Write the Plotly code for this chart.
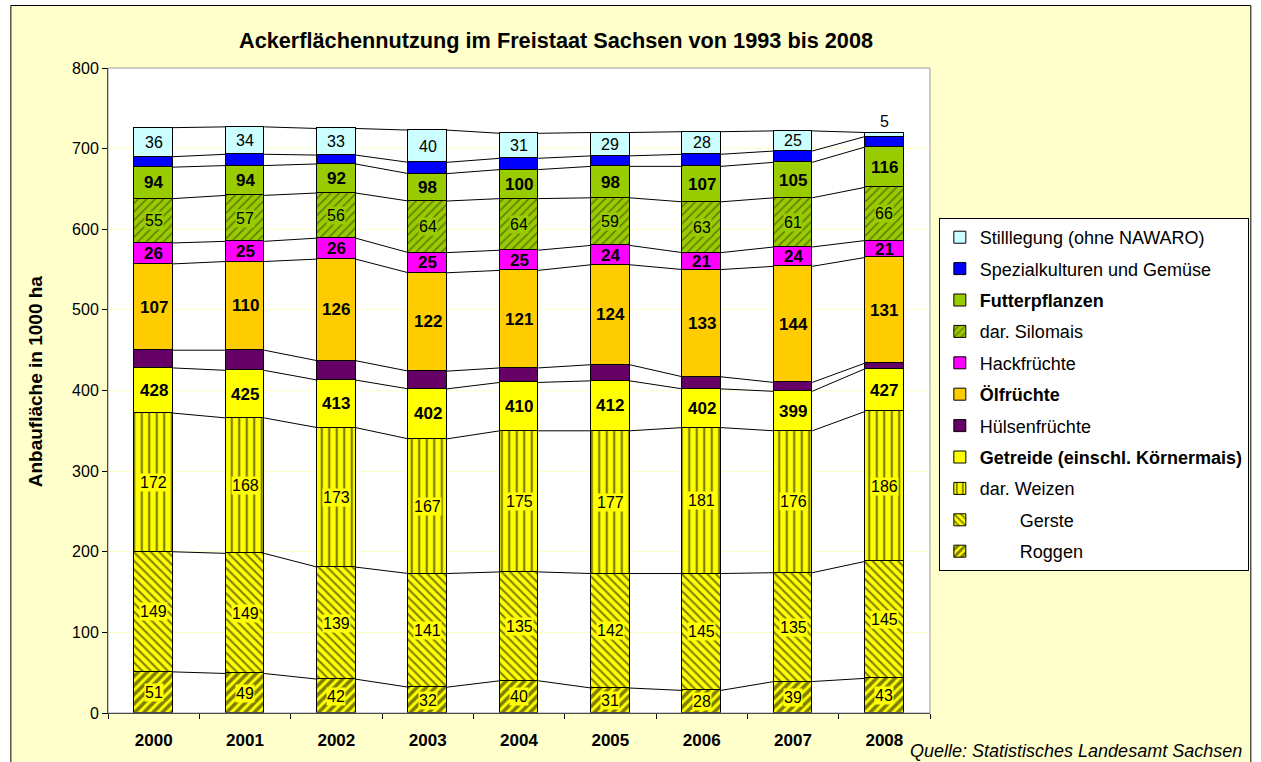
import plotly.graph_objects as go

# ---------------- data ----------------
years = ["2000", "2001", "2002", "2003", "2004", "2005", "2006", "2007", "2008"]
roggen = [51, 49, 42, 32, 40, 31, 28, 39, 43]
gerste = [149, 149, 139, 141, 135, 142, 145, 135, 145]
weizen = [172, 168, 173, 167, 175, 177, 181, 176, 186]
getreide = [428, 425, 413, 402, 410, 412, 402, 399, 427]   # total incl. Körnermais
huelsen = [22, 25, 24, 22, 18, 20, 15, 11, 7]
oel = [107, 110, 126, 122, 121, 124, 133, 144, 131]
hack = [26, 25, 26, 25, 25, 24, 21, 24, 21]
silomais = [55, 57, 56, 64, 64, 59, 63, 61, 66]
futter = [94, 94, 92, 98, 100, 98, 107, 105, 116]          # total incl. Silomais
spezial = [13, 14, 11, 14, 14, 13, 15, 14, 13]
stilllegung = [36, 34, 33, 40, 31, 29, 28, 25, 5]

n = len(years)
xs = list(range(n))
getreide_rest = [g - r - ge - w for g, r, ge, w in zip(getreide, roggen, gerste, weizen)]
futter_rest = [f - s for f, s in zip(futter, silomais)]

FONT = "Liberation Sans, Arial, sans-serif"
W, H = 1261, 762
L, R, T, B = 108, 933, 68, 713
BW = 0.42


def px2x(px):
    return (px - L) / (R - L)


def py2y(py):
    return (B - py) / (B - T)


# stacking order bottom -> top
segments = [
    ("Roggen", roggen, dict(color="#FFFF00", pattern=dict(shape="/", fgcolor="#000000", bgcolor="#FFFF00", size=6.5, solidity=0.55)), "\u00a0" * 8 + "Roggen"),
    ("Gerste", gerste, dict(color="#FFFF00", pattern=dict(shape="\\", fgcolor="#000000", bgcolor="#FFFF00", size=6, solidity=0.35)), "\u00a0" * 8 + "Gerste"),
    ("Weizen", weizen, dict(color="#FFFF00", pattern=dict(shape="|", fgcolor="#000000", bgcolor="#FFFF00", size=7.5, solidity=0.3)), "dar. Weizen"),
    ("Getreide", getreide_rest, dict(color="#FFFF00"), "<b>Getreide (einschl. Körnermais)</b>"),
    ("Huelsen", huelsen, dict(color="#660066"), "Hülsenfrüchte"),
    ("Oel", oel, dict(color="#FFCC00"), "<b>Ölfrüchte</b>"),
    ("Hack", hack, dict(color="#FF00FF"), "Hackfrüchte"),
    ("Silomais", silomais, dict(color="#99CC00", pattern=dict(shape="/", fgcolor="#333300", bgcolor="#99CC00", size=6, solidity=0.3)), "dar. Silomais"),
    ("Futter", futter_rest, dict(color="#99CC00"), "<b>Futterpflanzen</b>"),
    ("Spezial", spezial, dict(color="#0000FF"), "Spezialkulturen und Gemüse"),
    ("Still", stilllegung, dict(color="#CCFFFF"), "Stilllegung (ohne NAWARO)"),
]

fig = go.Figure()

for k, (key, vals, marker, name) in enumerate(segments):
    m = dict(marker)
    m["line"] = dict(color="#000000", width=1)
    fig.add_trace(go.Bar(
        x=xs, y=vals, name=name, marker=m, width=BW,
        legendgroup=key, legendrank=100 - k, hoverinfo="skip",
    ))

# cumulative tops
cum = []
run = [0] * n
for key, vals, marker, name in segments:
    run = [a + b for a, b in zip(run, vals)]
    cum.append(list(run))

# series lines between bars
lx, ly = [], []
for level in cum:
    for i in range(n - 1):
        lx += [i + BW / 2, i + 1 - BW / 2, None]
        ly += [level[i], level[i + 1], None]
fig.add_trace(go.Scatter(x=lx, y=ly, mode="lines", line=dict(color="#000000", width=1),
                         showlegend=False, hoverinfo="skip"))

# ---------------- labels ----------------
annotations = []


def seg_mid(idx, i):
    lo = cum[idx - 1][i] if idx > 0 else 0
    return (lo + cum[idx][i]) / 2


def add_label(idx, i, text, bold, bg=None, size=None):
    annotations.append(dict(
        x=i, y=seg_mid(idx, i), xref="x", yref="y", text=f"<b>{text}</b>" if bold else str(text),
        showarrow=False, font=dict(family=FONT, size=size or (17 if bold else 16), color="#000000"),
        bgcolor=bg, borderpad=0, xanchor="center", yanchor="middle",
    ))


for i in range(n):
    add_label(0, i, roggen[i], False, "#FFFF00")
    add_label(1, i, gerste[i], False, "#FFFF00")
    add_label(2, i, weizen[i], False, "#FFFF00")
    add_label(3, i, getreide[i], True)
    add_label(5, i, oel[i], True)
    add_label(6, i, hack[i], True)
    add_label(7, i, silomais[i], False, "#99CC00")
    add_label(8, i, futter[i], True)
    if stilllegung[i] >= 15:
        add_label(10, i, stilllegung[i], False)
    else:
        annotations.append(dict(
            x=i, y=cum[10][i], xref="x", yref="y", text=str(stilllegung[i]), showarrow=False,
            font=dict(family=FONT, size=16, color="#000000"), xanchor="center", yanchor="bottom", yshift=1,
        ))

# y-axis title
annotations.append(dict(
    x=px2x(36), y=py2y(381), xref="paper", yref="paper", text="<b>Anbaufläche in 1000 ha</b>",
    textangle=-90, showarrow=False, font=dict(family=FONT, size=19, color="#000000"),
    xanchor="center", yanchor="middle",
))
# source
annotations.append(dict(
    x=px2x(1248), y=py2y(751), xref="paper", yref="paper", text="<i>Quelle: Statistisches Landesamt Sachsen</i>",
    showarrow=False, font=dict(family=FONT, size=18, color="#000000"),
    xanchor="right", yanchor="middle",
))

shapes = [
    # white margins outside the chart border
    dict(type="rect", xref="paper", yref="paper", x0=px2x(-5), x1=px2x(10), y0=py2y(800), y1=py2y(-5),
         fillcolor="#FFFFFF", line=dict(width=0), layer="below"),
    dict(type="rect", xref="paper", yref="paper", x0=px2x(-5), x1=px2x(1270), y0=py2y(5), y1=py2y(-5),
         fillcolor="#FFFFFF", line=dict(width=0), layer="below"),
    dict(type="rect", xref="paper", yref="paper", x0=px2x(1255), x1=px2x(1270), y0=py2y(800), y1=py2y(-5),
         fillcolor="#FFFFFF", line=dict(width=0), layer="below"),
    # chart border
    dict(type="rect", xref="paper", yref="paper", x0=px2x(10.5), x1=px2x(1255), y0=py2y(775), y1=py2y(5.5),
         fillcolor="rgba(0,0,0,0)", line=dict(color="#000000", width=1)),
    # plot area border (grey top/right)
    dict(type="rect", xref="paper", yref="paper", x0=0, x1=1, y0=0, y1=1,
         fillcolor="rgba(0,0,0,0)", line=dict(color="#999999", width=1)),
]

fig.update_layout(
    width=W, height=H,
    margin=dict(l=L, r=W - R, t=T, b=H - B, pad=0),
    barmode="stack",
    bargap=0,
    paper_bgcolor="#FFFFCC",
    plot_bgcolor="#FFFFFF",
    font=dict(family=FONT, color="#000000"),
    title=dict(text="<b>Ackerflächennutzung im Freistaat Sachsen von 1993 bis 2008</b>",
               font=dict(family=FONT, size=21.7, color="#000000"),
               xref="container", yref="container", x=556 / W, y=1 - 40 / H,
               xanchor="center", yanchor="middle"),
    legend=dict(
        x=px2x(1253), y=py2y(218), xanchor="right", yanchor="top",
        bgcolor="#FFFFFF", bordercolor="#000000", borderwidth=1,
        font=dict(family=FONT, size=18, color="#000000"),
        traceorder="grouped", tracegroupgap=5,
    ),
    xaxis=dict(
        range=[-0.5, n - 0.5], tickvals=xs, ticktext=[f"<b>{y}</b>" for y in years],
        ticks="", showgrid=False, zeroline=False,
        showline=True, linecolor="#000000", linewidth=1,
        tickfont=dict(family=FONT, size=17, color="#000000"),
        ticklabelstandoff=12,
        minor=dict(tickvals=[i - 0.5 for i in range(n + 1)], ticks="outside", ticklen=5,
                   tickcolor="#000000", showgrid=False),
    ),
    yaxis=dict(
        range=[0, 800], dtick=100, ticks="outside", ticklen=5, tickcolor="#000000",
        showgrid=True, gridcolor="#FFFFCC", gridwidth=1, zeroline=False,
        showline=True, linecolor="#000000", linewidth=1,
        tickfont=dict(family=FONT, size=16, color="#000000"),
    ),
    annotations=annotations,
    shapes=shapes,
    showlegend=True,
)

fig.write_html("out.html", config={"displayModeBar": False},
               post_script="document.body.style.margin='0';document.body.style.padding='0';")
